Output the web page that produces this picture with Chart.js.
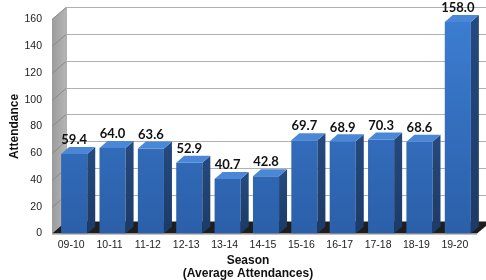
<!DOCTYPE html>
<html>
<head>
<meta charset="utf-8">
<script src="https://cdn.jsdelivr.net/npm/chart.js@4.4.1/dist/chart.umd.min.js"></script>
<style>
  html, body { margin: 0; padding: 0; background: #fff; overflow: hidden; }
  #wrap { width: 486px; height: 280px; }
</style>
</head>
<body>
<div id="wrap"><canvas id="attChart"></canvas></div>
<script>
const seasons = ['09-10', '10-11', '11-12', '12-13', '13-14', '14-15', '15-16', '16-17', '17-18', '18-19', '19-20'];
const attendance = [59.4, 64.0, 63.6, 52.9, 40.7, 42.8, 69.7, 68.9, 70.3, 68.6, 158.0];
const yTicks = [0, 20, 40, 60, 80, 100, 120, 140, 160];

// depth of walls and of bars (fake 3d)
const WALL_DX = 14, WALL_DY = -12;
const BAR_DX = 8, BAR_DY = -7;

function poly(c, pts, fill) {
    c.beginPath();
    c.moveTo(pts[0][0], pts[0][1]);
    for (let i = 1; i < pts.length; i++) c.lineTo(pts[i][0], pts[i][1]);
    c.closePath();
    c.fillStyle = fill;
    c.fill();
}

const box3d = {
    id: 'box3d',
    beforeDatasetsDraw(chart) {
        const c = chart.ctx;
        const area = chart.chartArea;
        const ys = chart.scales.y;
        const L = area.left - 3, R = area.right;
        const top = ys.getPixelForValue(160), bot = ys.getPixelForValue(0);
        c.save();
        // side wall
        const g = c.createLinearGradient(L, 0, L + WALL_DX, 0);
        g.addColorStop(0, '#9c9c9c');
        g.addColorStop(1, '#b4b4b4');
        poly(c, [[L, top], [L + WALL_DX, top + WALL_DY], [L + WALL_DX, bot + WALL_DY], [L, bot]], g);
        // grid lines on side + back wall
        c.lineWidth = 1;
        yTicks.forEach(v => {
            const y = Math.round(ys.getPixelForValue(v)) + 0.5;
            if (v > 0) {
                c.strokeStyle = '#8a8a8a';
                c.beginPath();
                c.moveTo(L, y);
                c.lineTo(L + WALL_DX, y + WALL_DY);
                c.stroke();
            }
            c.strokeStyle = '#b0b0b0';
            c.beginPath();
            c.moveTo(L + WALL_DX, y + WALL_DY);
            c.lineTo(chart.width + 10, y + WALL_DY);
            c.stroke();
        });
        c.strokeStyle = '#b0b0b0';
        c.beginPath();
        c.moveTo(L + WALL_DX + 0.5, top + WALL_DY);
        c.lineTo(L + WALL_DX + 0.5, bot + WALL_DY);
        c.stroke();
        // floor
        poly(c, [[L, bot], [L + WALL_DX, bot + WALL_DY], [R + WALL_DX, bot + WALL_DY], [R, bot]], '#1e1e1e');
        c.strokeStyle = '#9a9a9a';
        c.beginPath();
        c.moveTo(L, bot + 0.5);
        c.lineTo(R, bot + 0.5);
        c.stroke();
        c.restore();
    },
    afterDatasetsDraw(chart) {
        const c = chart.ctx;
        const meta = chart.getDatasetMeta(0);
        c.save();
        meta.data.forEach((bar, i) => {
            const p = bar.getProps(['x', 'y', 'base', 'width'], true);
            const xl = p.x - p.width / 2, xr = p.x + p.width / 2;
            const sg = c.createLinearGradient(0, p.y, 0, p.base);
            sg.addColorStop(0, '#24497e');
            sg.addColorStop(1, '#1c3a66');
            poly(c, [[xr, p.y], [xr + BAR_DX, p.y + BAR_DY], [xr + BAR_DX, p.base + BAR_DY], [xr, p.base]], sg);
            poly(c, [[xl, p.y], [xl + BAR_DX, p.y + BAR_DY], [xr + BAR_DX, p.y + BAR_DY], [xr, p.y]], '#4a87d6');
            c.fillStyle = '#111';
            c.font = 'bold 13px Lato, "Liberation Sans", sans-serif';
            c.textAlign = 'center';
            c.textBaseline = 'bottom';
            c.fillText(attendance[i].toFixed(1), p.x, p.y + BAR_DY - 0.5);
        });
        c.restore();
    }
};

new Chart(document.getElementById('attChart'), {
    type: 'bar',
    data: {
        labels: seasons,
        datasets: [{
            data: attendance,
            backgroundColor: (ctx) => {
                const area = ctx.chart.chartArea;
                if (!area) return '#336cc0';
                const g = ctx.chart.ctx.createLinearGradient(0, area.top, 0, area.bottom);
                g.addColorStop(0, '#3c7dd1');
                g.addColorStop(1, '#2b5fa9');
                return g;
            },
            borderWidth: 0,
            barPercentage: 0.68,
            categoryPercentage: 1.0
        }]
    },
    options: {
        responsive: true,
        maintainAspectRatio: false,
        animation: false,
        layout: { padding: { left: 10, right: 0, top: 10, bottom: 0 } },
        plugins: {
            legend: { display: false },
            tooltip: { enabled: false },
            title: {
                display: true,
                position: 'bottom',
                text: ['Season', '(Average Attendances)'],
                color: '#111',
                font: { family: '"Liberation Sans", Arial, sans-serif', size: 12, weight: 'bold', lineHeight: 1.1 },
                padding: 0
            }
        },
        scales: {
            x: {
                grid: { display: false, drawTicks: false },
                border: { display: false },
                ticks: {
                    color: '#222',
                    padding: 5,
                    labelOffset: -3,
                    font: { family: '"Liberation Sans", Arial, sans-serif', size: 10.5 }
                },
                afterFit(s) { s.height = 20; }
            },
            y: {
                min: 0,
                max: 160,
                grid: { display: false, drawTicks: false },
                border: { display: false },
                ticks: {
                    stepSize: 20,
                    padding: 13,
                    color: '#222',
                    font: { family: '"Liberation Sans", Arial, sans-serif', size: 10.5 }
                },
                title: {
                    display: true,
                    text: 'Attendance',
                    color: '#111',
                    padding: { top: -3, bottom: 0 },
                    font: { family: '"Liberation Sans", Arial, sans-serif', size: 12, weight: 'bold' }
                },
                afterFit(s) { s.width = 45; }
            },
            yR: {
                position: 'right',
                display: true,
                grid: { display: false, drawTicks: false },
                border: { display: false },
                ticks: { display: false },
                afterFit(s) { s.width = 9; }
            }
        }
    },
    plugins: [box3d]
});
</script>
</body>
</html>
